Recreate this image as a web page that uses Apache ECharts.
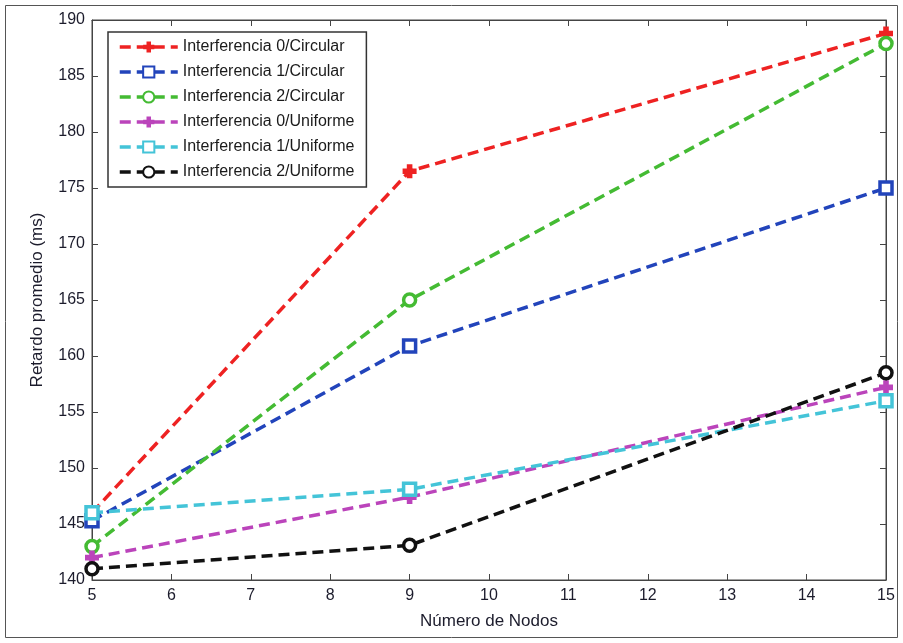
<!DOCTYPE html>
<html>
<head>
<meta charset="utf-8">
<script src="https://cdn.jsdelivr.net/npm/echarts@6/dist/echarts.min.js"></script>
<style>
  html, body { margin: 0; padding: 0; background: #fff; }
  #chart { width: 903px; height: 643px; }
</style>
</head>
<body>
<div id="chart"></div>
<script>
var nodos = [5, 9, 15];
var interf0Circ = [146, 176.5, 188.8];
var interf1Circ = [145.3, 160.9, 175];
var interf2Circ = [143, 165, 187.9];
var interf0Unif = [142, 147.4, 157.2];
var interf1Unif = [146, 148.1, 156];
var interf2Unif = [141, 143.1, 158.5];
var seriesNames = [
    'Interferencia 0/Circular', 'Interferencia 1/Circular', 'Interferencia 2/Circular',
    'Interferencia 0/Uniforme', 'Interferencia 1/Uniforme', 'Interferencia 2/Uniforme'
];

// thick filled cross, like the matlab '+' marker drawn with a wide line
var plusPath = 'path://M3,0H7V3H10V7H7V10H3V7H0V3H3Z';

function pairs(vals) {
    return nodos.map(function(x, i) { return [x, vals[i]]; });
}

function mkSeries(name, vals, color, symbol, empty) {
    return {
        name: name,
        type: 'line',
        data: pairs(vals),
        symbol: symbol,
        symbolSize: empty ? 12 : 14,
        lineStyle: { color: color, width: 3.5, type: [11, 6] },
        itemStyle: {
            color: empty ? '#fff' : color,
            borderColor: color,
            borderWidth: empty ? 3.5 : 0
        },
        emphasis: { disabled: true },
        animation: false
    };
}

var myChart = echarts.init(document.getElementById('chart'));
var font = 'Liberation Sans, Arial, sans-serif';

var option = {
    backgroundColor: '#fff',
    graphic: [{
        type: 'rect',
        shape: { x: 5.5, y: 5.5, width: 892, height: 632 },
        style: { fill: 'none', stroke: '#555', lineWidth: 1 }
    }],
    grid: { left: 92, right: 17, top: 20, bottom: 63, show: true, borderColor: '#444', borderWidth: 1 },
    legend: {
        left: 108, top: 32,
        orient: 'vertical',
        data: seriesNames,
        itemWidth: 58, itemHeight: 14, itemGap: 9,
        padding: [7, 12, 7, 10],
        borderColor: '#333', borderWidth: 1.5,
        backgroundColor: '#fff',
        lineStyle: { width: 3.5 },
        textStyle: { color: '#1a1a1a', fontSize: 16, fontFamily: font }
    },
    xAxis: [{
        type: 'value', min: 5, max: 15, interval: 1,
        name: 'Número de Nodos', nameLocation: 'middle', nameGap: 33,
        nameTextStyle: { color: '#1c1c2c', fontSize: 17, fontFamily: font },
        axisLine: { lineStyle: { color: '#444' } },
        axisTick: { inside: true, length: 6, lineStyle: { color: '#444' } },
        axisLabel: { color: '#1c1c2c', fontSize: 16, fontFamily: font, margin: 8 },
        splitLine: { show: false }
    }, {
        type: 'value', min: 5, max: 15, interval: 1, position: 'top',
        axisLine: { lineStyle: { color: '#444' } },
        axisTick: { inside: true, length: 6, lineStyle: { color: '#444' } },
        axisLabel: { show: false },
        splitLine: { show: false }
    }],
    yAxis: [{
        type: 'value', min: 140, max: 190, interval: 5,
        name: 'Retardo promedio (ms)', nameLocation: 'middle', nameGap: 46,
        nameTextStyle: { color: '#1c1c2c', fontSize: 17, fontFamily: font },
        axisLine: { show: true, lineStyle: { color: '#444' } },
        axisTick: { show: true, inside: true, length: 6, lineStyle: { color: '#444' } },
        axisLabel: { color: '#1c1c2c', fontSize: 16, fontFamily: font, margin: 7 },
        splitLine: { show: false }
    }, {
        type: 'value', min: 140, max: 190, interval: 5, position: 'right',
        axisLine: { show: true, lineStyle: { color: '#444' } },
        axisTick: { show: true, inside: true, length: 6, lineStyle: { color: '#444' } },
        axisLabel: { show: false },
        splitLine: { show: false }
    }],
    series: [
        mkSeries(seriesNames[0], interf0Circ, '#ee2222', plusPath, false),
        mkSeries(seriesNames[1], interf1Circ, '#2244bb', 'rect', true),
        mkSeries(seriesNames[2], interf2Circ, '#44bb33', 'circle', true),
        mkSeries(seriesNames[3], interf0Unif, '#bb44bb', plusPath, false),
        mkSeries(seriesNames[4], interf1Unif, '#44c4d8', 'rect', true),
        mkSeries(seriesNames[5], interf2Unif, '#111111', 'circle', true)
    ]
};
myChart.setOption(option);
</script>
</body>
</html>
